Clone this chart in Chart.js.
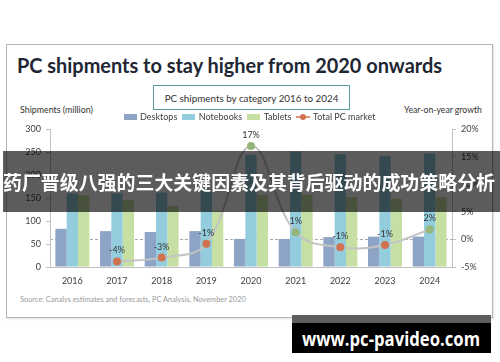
<!DOCTYPE html>
<html>
<head>
<meta charset="utf-8">
<script src="https://cdn.jsdelivr.net/npm/chart.js@4.4.0/dist/chart.umd.min.js"></script>
<style>
html, body { margin: 0; padding: 0; background: #fff; }
#wrap { position: relative; width: 500px; height: 362px; overflow: hidden; font-family: Lato, sans-serif; }
#frame { position: absolute; left: 6px; top: 44px; width: 485px; height: 272px; border: 1px solid #b5b5b5; box-shadow: 1px 1px 2px rgba(0,0,0,0.12); }
#title { position: absolute; left: 17px; top: 54px; font: bold 21px/21px Lato, sans-serif; color: #1e2733; white-space: nowrap; transform-origin: left center; }
#subbox { position: absolute; left: 153px; top: 85px; width: 195px; height: 23px; border: 1px solid #5b9aa1; text-align: center; }
#subtitle { display: inline-block; margin-top: 5px; font-size: 10px; line-height: 12px; color: #333; white-space: nowrap; }
.axtitle { position: absolute; top: 104px; font-size: 8.5px; color: #333; white-space: nowrap; }
#source { position: absolute; left: 20px; top: 295px; font-size: 7px; color: #9a9a9a; white-space: nowrap; }
#chart { position: absolute; left: 0; top: 0; }
#banner { position: absolute; left: 3px; top: 151px; width: 497px; height: 61px; background: rgba(0,0,0,0.64); }
#bannertext { position: absolute; left: 0; top: 21px; font: bold 19px/19px "Noto Sans CJK SC", sans-serif; color: #fff; white-space: nowrap; transform-origin: left center; }
#mark { position: absolute; left: 292px; top: 315px; width: 199px; height: 38px; background: #000; border-top: 8px solid #5e5e5e; box-sizing: border-box; }
#marktext { position: absolute; left: 10px; top: 6px; font: bold 20px/20px "Open Sans", sans-serif; color: #fff; white-space: nowrap; transform-origin: left center; }
</style>
</head>
<body>
<div id="wrap">
  <div id="frame"></div>
  <div id="title">PC shipments to stay higher from 2020 onwards</div>
  <div id="subbox"><span id="subtitle">PC shipments by category 2016 to 2024</span></div>
  <div class="axtitle" id="lefttitle" style="left:20px">Shipments (million)</div>
  <div class="axtitle" id="righttitle" style="left:404px">Year-on-year growth</div>
  <div id="source">Source: Canalys estimates and forecasts, PC Analysis, November 2020</div>
  <canvas id="chart" width="500" height="362"></canvas>
  <div id="banner"><div id="bannertext">药厂晋级八强的三大关键因素及其背后驱动的成功策略分析</div></div>
  <div id="mark"><div id="marktext">www.pc-pavideo.com</div></div>
</div>
<script>
// data
const years = ['2016', '2017', '2018', '2019', '2020', '2021', '2022', '2023', '2024'];
const desktops = [83, 78, 76, 78, 61, 61, 65, 66, 66];
const notebooks = [160, 160, 162, 168, 244, 251, 245, 241, 247];
const tablets = [156, 146, 133, 122, 157, 157, 152, 148, 152];
const growth = [null, -4.0, -3.3, -0.8, 16.9, 1.3, -1.4, -1.0, 1.8]; // total PC market, %

const colDesk = '#8ea4c6';
const colNote = '#93cddd';
const colTab = '#c6dfa3';
const colLine = '#c4c4c4';
const colNeg = '#d0714f';
const colPos = '#95b57a';

// squash some html text to the widths seen in the picture
function fitWidth(id, w) {
    const el = document.getElementById(id);
    const r = el.getBoundingClientRect().width;
    el.style.transform = 'scaleX(' + (w / r) + ')';
}
fitWidth('title', 425);
fitWidth('bannertext', 492);
fitWidth('marktext', 178);

function fitFont(id, w) {
    const el = document.getElementById(id);
    const fs = parseFloat(getComputedStyle(el).fontSize);
    el.style.fontSize = (fs * w / el.getBoundingClientRect().width) + 'px';
}
fitFont('subtitle', 174);
fitFont('lefttitle', 73);
fitFont('righttitle', 78);
fitFont('source', 226);

// legend swatches
function boxSwatch(color) {
    const c = document.createElement('canvas');
    c.width = 13; c.height = 6;
    const g = c.getContext('2d');
    g.fillStyle = color;
    g.fillRect(0, 0, 13, 6);
    return c;
}
function lineSwatch() {
    const c = document.createElement('canvas');
    c.width = 14; c.height = 8;
    const g = c.getContext('2d');
    g.strokeStyle = colNeg;
    g.lineWidth = 1.5;
    g.beginPath(); g.moveTo(0, 4); g.lineTo(14, 4); g.stroke();
    g.fillStyle = colNeg;
    g.beginPath(); g.arc(7, 4, 3, 0, Math.PI * 2); g.fill();
    return c;
}
const swatches = [boxSwatch(colDesk), boxSwatch(colNote), boxSwatch(colTab), lineSwatch()];

const legendPad = 6;
const legendFont = 9;

// legend row centre sits at y=117 in the picture
const legendNudge = {
    id: 'legendNudge',
    afterLayout(chart) {
        const L = chart.legend;
        if (!L) return;
        const d = (117 - legendPad - legendFont / 2) - L.top;
        L.top += d;
        L.bottom += d;
    }
};

const growthLabels = {
    id: 'growthLabels',
    afterDatasetsDraw(chart) {
        const meta = chart.getDatasetMeta(3);
        const ctx = chart.ctx;
        ctx.save();
        ctx.font = '9px Lato';
        ctx.fillStyle = '#333';
        ctx.textAlign = 'center';
        ctx.textBaseline = 'middle';
        meta.data.forEach((pt, i) => {
            if (growth[i] == null) return;
            ctx.fillText(Math.round(growth[i]) + '%', pt.x, pt.y - 11);
        });
        ctx.restore();
    }
};

const tickFont = { family: 'Lato', size: 9 };

const chart = new Chart(document.getElementById('chart'), {
    type: 'bar',
    data: {
        labels: years,
        datasets: [
            { label: 'Desktops', data: desktops, backgroundColor: colDesk, yAxisID: 'y' },
            { label: 'Notebooks', data: notebooks, backgroundColor: colNote, yAxisID: 'y' },
            { label: 'Tablets', data: tablets, backgroundColor: colTab, yAxisID: 'y' },
            {
                type: 'line',
                label: 'Total PC market',
                data: growth,
                yAxisID: 'y1',
                order: -1,
                borderColor: colLine,
                borderWidth: 2,
                tension: 0.4,
                pointRadius: 4,
                pointBorderWidth: 0,
                pointBackgroundColor: growth.map(v => v != null && v > 0 ? colPos : colNeg)
            }
        ]
    },
    options: {
        responsive: false,
        animation: false,
        layout: { padding: { top: 104, left: 0, right: 0, bottom: 0 } },
        datasets: { bar: { categoryPercentage: 0.76, barPercentage: 1.0, borderWidth: 0 } },
        plugins: {
            tooltip: { enabled: false },
            legend: {
                position: 'top',
                labels: {
                    usePointStyle: true,
                    pointStyleWidth: 11,
                    padding: legendPad,
                    color: '#404040',
                    font: { family: 'Lato', size: legendFont },
                    generateLabels(chart) {
                        const items = Chart.defaults.plugins.legend.labels.generateLabels(chart);
                        items.sort((a, b) => a.datasetIndex - b.datasetIndex);
                        items.forEach(it => { it.pointStyle = swatches[it.datasetIndex]; });
                        return items;
                    }
                }
            }
        },
        scales: {
            x: {
                grid: { display: false, drawTicks: false },
                border: { color: '#c0c0c0' },
                ticks: { font: tickFont, color: '#404040', padding: 9 },
                afterFit(s) { s.height = 95; }
            },
            y: {
                position: 'left',
                min: 0,
                max: 300,
                ticks: { stepSize: 50, font: tickFont, color: '#404040', padding: 5 },
                grid: { drawOnChartArea: false, tickLength: 4, color: '#c0c0c0' },
                border: { color: '#c0c0c0' },
                afterFit(s) { s.width = 50; }
            },
            y1: {
                position: 'right',
                min: -5,
                max: 20,
                ticks: { stepSize: 5, font: tickFont, color: '#404040', padding: 5, callback: v => v + '%' },
                grid: {
                    color: c => c.tick && c.tick.value === 0 ? '#a8a8a8' : 'rgba(0,0,0,0)',
                    tickColor: '#c0c0c0',
                    tickLength: 4
                },
                border: { color: '#c0c0c0', dash: [3, 2] },
                afterFit(s) { s.width = 48; }
            }
        }
    },
    plugins: [growthLabels, legendNudge]
});

// pin the plot top to where the 300 tick sits in the picture
const shift = 129 - chart.chartArea.top;
if (Math.abs(shift) > 0.5) {
    chart.options.layout.padding.top += shift;
    chart.update('none');
}
</script>
</body>
</html>
